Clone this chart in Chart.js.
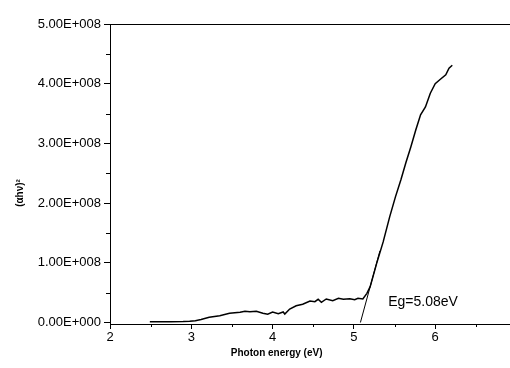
<!DOCTYPE html>
<html>
<head>
<meta charset="utf-8">
<script src="https://cdn.jsdelivr.net/npm/chart.js@4/dist/chart.umd.min.js"></script>
<style>
html,body{margin:0;padding:0;background:#fff;}
#c{display:block;}
</style>
</head>
<body>
<canvas id="c" width="510" height="368"></canvas>
<script>
// Photon energy (eV)
const energy = [2.49,2.60,2.75,2.90,2.98,3.05,3.12,3.22,3.35,3.47,3.60,3.66,3.72,3.80,3.88,3.94,4.00,4.07,4.13,4.15,4.21,4.29,4.37,4.46,4.52,4.56,4.60,4.66,4.74,4.81,4.87,4.95,5.01,5.05,5.11,5.16,5.20,5.28,5.36,5.44,5.51,5.58,5.64,5.70,5.76,5.82,5.88,5.94,6.00,6.06,6.13,6.17,6.21];
// (αhν)^2 in units of 1e8
const ahv2 = [0.013,0.013,0.012,0.015,0.020,0.030,0.050,0.087,0.114,0.154,0.171,0.190,0.181,0.188,0.154,0.140,0.175,0.147,0.176,0.142,0.226,0.281,0.305,0.360,0.349,0.389,0.338,0.394,0.365,0.405,0.389,0.399,0.382,0.405,0.394,0.489,0.600,0.990,1.350,1.770,2.100,2.400,2.680,2.940,3.220,3.480,3.610,3.840,4.000,4.070,4.150,4.260,4.310];
// tangent (band-gap extrapolation) line
const tangentX = [5.08, 5.32];
const tangentY = [0.0, 1.20];
const SCALE = 1e8;
const xMajor = [2,3,4,5,6];
const xMinor = [2.5,3.5,4.5,5.5,6.5];
const yMajor = [0,1,2,3,4,5];
const yMinor = [0.5,1.5,2.5,3.5,4.5];
const yLabels = ['0.00E+000','1.00E+008','2.00E+008','3.00E+008','4.00E+008','5.00E+008'];
const xTitle = 'Photon energy (eV)';
const yTitle = '(\u03b1h\u03bd)\u00b2';
const egLabel = 'Eg=5.08eV';

const mainData = energy.map((e,i)=>({x:e,y:ahv2[i]*SCALE}));
const tanData = tangentX.map((e,i)=>({x:e,y:tangentY[i]*SCALE}));

const FONT = '"Liberation Sans", Arial, sans-serif';

const extras = {
  id:'extras',
  afterDraw(chart){
    const ctx = chart.ctx, a = chart.chartArea;
    const xs = chart.scales.x, ys = chart.scales.y;
    ctx.save();
    ctx.strokeStyle = '#000';
    ctx.lineWidth = 1;
    // top frame line
    ctx.beginPath();
    ctx.moveTo(a.left, a.top + 0.5);
    ctx.lineTo(a.right, a.top + 0.5);
    ctx.stroke();
    // minor ticks
    ctx.beginPath();
    xMinor.forEach(v=>{
      const p = Math.round(xs.getPixelForValue(v)) + 0.5;
      ctx.moveTo(p, a.bottom); ctx.lineTo(p, a.bottom + 3);
    });
    yMinor.forEach(v=>{
      const p = Math.round(ys.getPixelForValue(v*SCALE)) + 0.5;
      ctx.moveTo(a.left - 4, p); ctx.lineTo(a.left, p);
    });
    ctx.stroke();
    // axis titles
    ctx.fillStyle = '#000';
    ctx.font = 'bold 10px ' + FONT;
    ctx.textAlign = 'center';
    ctx.textBaseline = 'middle';
    ctx.fillText(xTitle, xs.getPixelForValue(4.05), a.bottom + 29);
    ctx.save();
    ctx.translate(a.left - 90, ys.getPixelForValue(2.17*SCALE));
    ctx.rotate(-Math.PI/2);
    ctx.fillText(yTitle, 0, 0);
    ctx.restore();
    // Eg annotation
    ctx.font = '14px ' + FONT;
    ctx.fillText(egLabel, xs.getPixelForValue(5.85), ys.getPixelForValue(0.34*SCALE));
    ctx.restore();
  }
};

new Chart(document.getElementById('c'), {
  type:'scatter',
  data:{datasets:[
    {data:mainData, showLine:true, borderColor:'#000', borderWidth:1.5, pointRadius:0, tension:0},
    {data:tanData, showLine:true, borderColor:'#000', borderWidth:1, pointRadius:0, tension:0}
  ]},
  options:{
    responsive:false,
    animation:false,
    layout:{padding:{top:24,right:0,left:0,bottom:0}},
    plugins:{legend:{display:false}, tooltip:{enabled:false}},
    scales:{
      x:{
        type:'linear', min:2, max:6.92,
        afterBuildTicks(s){ s.ticks = xMajor.map(v=>({value:v})); },
        afterFit(s){ s.height = 44; },
        grid:{drawOnChartArea:false, drawTicks:true, tickLength:5, color:'#000'},
        border:{color:'#000', width:1},
        ticks:{color:'#000', font:{family:FONT, size:13}, padding:1, maxRotation:0,
          callback:(v)=>String(v)}
      },
      y:{
        type:'linear', min:-0.025*SCALE, max:5*SCALE,
        afterBuildTicks(s){ s.ticks = yMajor.map(v=>({value:v*SCALE})); },
        afterFit(s){ s.width = 110; },
        grid:{drawOnChartArea:false, drawTicks:true, tickLength:6, color:'#000'},
        border:{color:'#000', width:1},
        ticks:{color:'#000', font:{family:FONT, size:13}, padding:3,
          callback:(v)=>{ const i = yMajor.indexOf(Math.round(v/SCALE)); return i>=0 ? yLabels[i] : ''; }}
      }
    }
  },
  plugins:[extras]
});
</script>
</body>
</html>
